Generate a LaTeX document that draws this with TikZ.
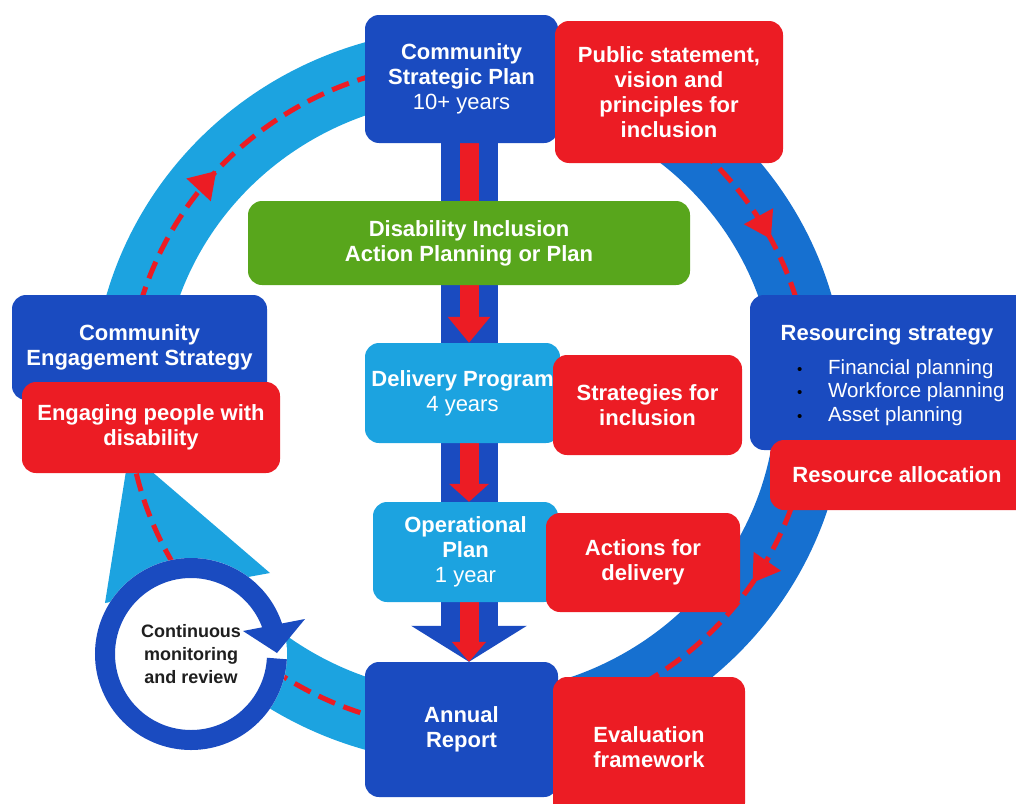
\documentclass[tikz,border=0pt]{standalone}
\usepackage{fontspec}
\setmainfont{Liberation Sans}
\usetikzlibrary{arrows.meta,decorations.markings}
\definecolor{dblue}{HTML}{1A4BC0}
\definecolor{mblue}{HTML}{1670D0}
\definecolor{lblue}{HTML}{1CA3E0}
\definecolor{myred}{HTML}{EC1C24}
\definecolor{mygreen}{HTML}{58A61C}
\pgfdeclarelayer{bg}
\pgfdeclarelayer{mid}
\pgfsetlayers{bg,mid,main}
\newcommand\resbul{\makebox[31pt][l]{\color{black}\fontsize{15}{15}\selectfont\textbullet}}
\begin{document}
\begin{tikzpicture}[x=1pt,y=-1pt,
  box/.style={rounded corners=14pt, inner sep=0pt, align=center, text=white, font=\bfseries\fontsize{22}{25}\selectfont},
  bluebox/.style={box, fill=dblue},
  redbox/.style={box, fill=myred},
  lbox/.style={box, fill=lblue},
  greenbox/.style={box, fill=mygreen},
  dashline/.style={myred, line width=5pt, dash pattern=on 18pt off 9pt},
  arrowmark/.style={postaction={decorate}, decoration={markings, mark=at position #1 with {\arrow{Triangle[length=26pt,width=32pt]}}}},
  itemtext/.style={anchor=west, inner sep=0pt, text=white, font=\fontsize{20.5}{24}\selectfont},
]
\useasboundingbox (0,0) rectangle (1016,803);

% boxes
\node[bluebox, minimum width=193pt, minimum height=128pt] (csp) at (461.5,79) {Community\\Strategic Plan\\\mdseries 10+ years};
\node[redbox, minimum width=228pt, minimum height=142pt] (pub) at (669,92) {Public statement,\\vision and\\principles for\\inclusion};
\node[greenbox, minimum width=442pt, minimum height=84pt] (dia) at (469,243) {Disability Inclusion\\Action Planning or Plan};
\node[lbox, minimum width=195pt, minimum height=100pt] (dp) at (462.5,393) {\raisebox{-4pt}{Delivery Program}\\\mdseries\raisebox{-4pt}{4 years}};
\node[redbox, minimum width=189pt, minimum height=100pt] (strat) at (647.5,405) {Strategies for\\inclusion};
\node[lbox, minimum width=185pt, minimum height=100pt] (op) at (465.5,552) {Operational\\Plan\\\mdseries 1 year};
\node[redbox, minimum width=194pt, minimum height=99pt] (act) at (643,562.5) {Actions for\\delivery};
\node[bluebox, minimum width=193pt, minimum height=135pt] (ar) at (461.5,729.5) {Annual\\Report};
\node[redbox, minimum width=192pt, minimum height=140pt] (eval) at (649,747) {Evaluation\\framework};
\node[bluebox, minimum width=294pt, minimum height=155pt] (res) at (897,372.5) {};
\node[box] (restitle) at (887,335) {Resourcing strategy};
\node[itemtext] (ri1) at (797,369) {\resbul Financial planning};
\node[itemtext] (ri2) at (797,392) {\resbul Workforce planning};
\node[itemtext] (ri3) at (797,416) {\resbul Asset planning};
\node[redbox, minimum width=274pt, minimum height=70pt] (alloc) at (907,475) {Resource allocation\hspace*{20pt}};
\node[bluebox, minimum width=255pt, minimum height=105pt] (ces) at (139.5,347.5) {Community\\Engagement Strategy};
\node[redbox, minimum width=258pt, minimum height=91pt] (eng) at (151,427.5) {Engaging people with\\disability};

% monitoring circle
\node[circle, fill=white, minimum size=192pt, inner sep=0pt, align=center, text=black!88, font=\bfseries\fontsize{18}{23}\selectfont] (mon) at (191,654) {Continuous\\monitoring\\and review};
\begin{scope}[shift={(mon.center)}]
  \draw[dblue, line width=20pt] (3:86) arc[start angle=3, end angle=342, radius=86];
  \fill[dblue] (52,-23) -- (114,-35) -- (86,-1) -- cycle;
\end{scope}

% block arrows between plans
\coordinate (ax) at (469,0);
\begin{pgfonlayer}{mid}
  \draw[dblue, line width=57pt] (ax |- csp.south) -- (ax |- dp.north);
  \draw[myred, line width=19pt, -{Triangle[length=26pt,width=41pt]}] (ax |- csp.south) -- (ax |- dp.north);
  \draw[dblue, line width=57pt] (ax |- dp.south) -- (ax |- op.north);
  \draw[myred, line width=19pt, -{Triangle[length=18pt,width=39pt]}] (ax |- dp.south) -- (ax |- op.north);
  \draw[dblue, line width=57pt, -{Triangle[length=36pt,width=114pt]}] (ax |- op.south) -- (ax |- ar.north);
  \draw[myred, line width=19pt, -{Triangle[length=20pt,width=33pt]}] (ax |- op.south) -- (ax |- ar.north);
\end{pgfonlayer}

% ring and dashed cycle
\begin{pgfonlayer}{bg}
  \begin{scope}[shift={(469,396)}]
    \fill[lblue] (195:307 and 298) arc[start angle=195, end angle=255, x radius=307, y radius=298]
      -- (255:377 and 368) arc[start angle=255, end angle=195, x radius=377, y radius=368] -- cycle;
    \fill[mblue] (305:307 and 298) arc[start angle=305, end angle=350, x radius=307, y radius=298]
      -- (350:377 and 368) arc[start angle=350, end angle=305, x radius=377, y radius=368] -- cycle;
    \fill[mblue] (5:307 and 298) arc[start angle=5, end angle=105, x radius=307, y radius=298]
      -- (105:377 and 368) arc[start angle=105, end angle=5, x radius=377, y radius=368] -- cycle;
    \fill[lblue] (100:307 and 298) arc[start angle=100, end angle=145, x radius=307, y radius=298]
      -- (145:377 and 368) arc[start angle=145, end angle=100, x radius=377, y radius=368] -- cycle;
  \end{scope}
  \fill[lblue] (105,603) -- (270,573) -- (129,452) -- cycle;
  \begin{scope}[shift={(469,396)}]
    \draw[dashline, arrowmark=0.46] (196:342 and 334) arc[start angle=196, end angle=253, x radius=342, y radius=334];
    \draw[dashline, arrowmark=0.55] (312.5:342 and 334) arc[start angle=312.5, end angle=348, x radius=342, y radius=334];
    \draw[dashline, arrowmark=0.42] (15:342 and 334) arc[start angle=15, end angle=60, x radius=342, y radius=334];
    \draw[dashline] (104:342 and 334) arc[start angle=104, end angle=170, x radius=342, y radius=334];
  \end{scope}
\end{pgfonlayer}
\end{tikzpicture}
\end{document}
